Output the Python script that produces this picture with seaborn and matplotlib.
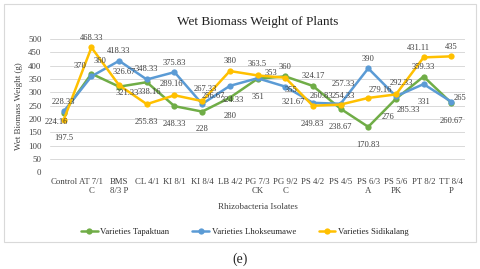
import numpy as np
import pandas as pd
import matplotlib
matplotlib.use("Agg")
import matplotlib.pyplot as plt
from matplotlib.patches import Rectangle
import seaborn as sns

isolates = ["Control", "AT 7/1\nC", "BMS\n8/3 P", "CL 4/1", "KI 8/1", "KI 8/4", "LB 4/2",
            "PG 7/3\nCK", "PG 9/2\nC", "PS 4/2", "PS 4/5", "PS 6/3\nA", "PS 5/6\nPK",
            "PT 8/2", "TT 8/4\nP"]
tapaktuan = [224.16, 370, 321.33, 338.16, 248.33, 228, 280, 351, 360, 324.17,
             238.67, 170.83, 276, 359.33, 260.67]
lhokseumawe = [228.33, 360, 418.33, 348.33, 375.83, 256.67, 324.33, 353, 321.67, 260.83,
               257.33, 390, 285.33, 331, 265]
sidikalang = [197.5, 468.33, 326.67, 255.83, 289.16, 267.33, 380, 363.5, 355, 249.83,
              254.33, 279.16, 292.33, 431.11, 435]
series = ["Varieties Tapaktuan", "Varieties Lhokseumawe", "Varieties Sidikalang"]
colors = ["#70AD47", "#5B9BD5", "#FFC000"]

df = pd.DataFrame({
    "isolate": isolates * 3,
    "weight": tapaktuan + lhokseumawe + sidikalang,
    "variety": np.repeat(series, len(isolates)),
})
df["pos"] = np.tile(np.arange(len(isolates)), 3)

sns.set_style("white")
plt.rcParams["font.family"] = ["Liberation Serif", "DejaVu Serif"]

fig = plt.figure(figsize=(4.8, 2.69), dpi=100)
ax = fig.add_axes([0.104, 0.359, 0.865, 0.496])

sns.lineplot(data=df, x="pos", y="weight", hue="variety", palette=colors,
             marker="o", markersize=4.5, markeredgewidth=0, linewidth=1.8,
             sort=False, ax=ax, legend=True)

# label offsets in points (default: just above the point)
moves = {
    0: {0: (-5, -4), 1: (-8, 3), 2: (6, -2), 3: (2, -4), 4: (0, -10), 5: (0, -10),
        6: (0, -10), 7: (0, -10), 10: (0, -10), 11: (0, -10), 12: (-6, -10),
        13: (0, 4), 14: (0, -10)},
    1: {0: (0, 4), 1: (6, 8), 3: (0, 5), 5: (8, 3), 6: (2, -7), 7: (10, 1), 8: (6, -8),
        9: (6, 2), 10: (2, 11), 12: (9, -7), 13: (0, -10), 14: (6, 0)},
    2: {0: (0, -10), 2: (4, 7), 3: (0, -10), 4: (-2, 5), 5: (2, 6), 7: (0, 5),
        8: (4, -6), 9: (0, -10), 10: (2, 3), 11: (9, 3), 12: (4, 5), 13: (-4, 4)},
}
for s, vals in enumerate([tapaktuan, lhokseumawe, sidikalang]):
    for i, v in enumerate(vals):
        txt = ("%.2f" % v).rstrip("0").rstrip(".")
        dx, dy = moves[s].get(i, (0, 4))
        ax.annotate(txt, (i, v), xytext=(dx, dy), textcoords="offset points",
                    ha="center", va="bottom" if dy >= 0 else "top", fontsize=6.1,
                    color="#404040")

ax.set_xlim(-0.5, len(isolates) - 0.5)
ax.set_ylim(0, 500)
ax.set_yticks(range(0, 501, 50))
ax.set_xticks(range(len(isolates)))
ax.set_xticklabels(isolates, fontsize=6.3, color="#404040", linespacing=1.1, va="top")
ax.tick_params(axis="y", labelsize=6.3, labelcolor="#404040", length=0, pad=6)
ax.tick_params(axis="x", length=0, pad=4)
ax.grid(axis="y", color="#D9D9D9", linewidth=0.7)
for sp in ax.spines.values():
    sp.set_visible(False)
ax.set_xlabel("Rhizobacteria Isolates", fontsize=6.5, color="#404040", labelpad=6)
ax.set_ylabel("Wet Biomass Weight (g)", fontsize=6.5, color="#404040", labelpad=4)
ax.set_title("Wet Biomass Weight of Plants", fontsize=9.5, color="#202020", pad=10)

handles, labels = ax.get_legend_handles_labels()
ax.legend_.remove()
fig.legend(handles, labels, loc="center", bbox_to_anchor=(0.51, 0.137), ncol=3,
           frameon=False, fontsize=6.3, handlelength=1.9, columnspacing=2.6,
           handletextpad=0.3)

fig.patches.append(Rectangle((0.008, 0.1), 0.984, 0.885, transform=fig.transFigure,
                             fill=False, edgecolor="#D9D9D9", linewidth=0.8))
fig.text(0.5, 0.035, "(e)", ha="center", va="center", fontsize=10)

fig.savefig("out.png", dpi=100)
